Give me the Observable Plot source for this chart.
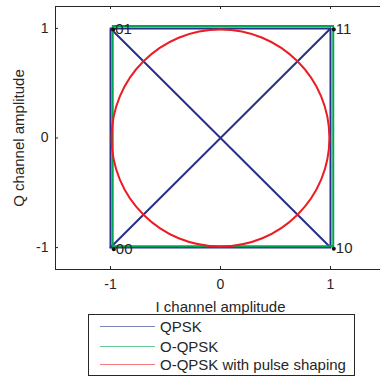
<!DOCTYPE html>
<html><head><meta charset="utf-8">
<script src="https://cdn.jsdelivr.net/npm/d3@7"></script>
<script src="https://cdn.jsdelivr.net/npm/@observablehq/plot@0.6"></script>
<style>
body{margin:0;background:#fff;font-family:"Liberation Sans",Arial,sans-serif;}
#wrap{position:relative;width:380px;height:378px;overflow:hidden;background:#fff}
#chart{position:absolute;left:0;top:0}
#legend{position:absolute;left:88px;top:314px;width:265px;height:60px;border:1px solid #262626;background:#fff;}
.row{position:absolute;left:0;width:265px;height:17px;font-size:15px;line-height:17px;color:#262626}
.sw{position:absolute;left:11px;top:8px;width:55px;height:1px;opacity:0.6}
.lb{position:absolute;left:71px;top:0}
</style></head>
<body>
<div id="wrap"><div id="chart"></div><div id="legend"></div></div>
<script>
const xTicks = [-1, 0, 1];
const yTicks = [-1, 0, 1];
// QPSK trajectory (two strokes)
const qpskI = [-1, 1, 1, -1, -1, 1, -1, 1];
const qpskQ = [1, 1, -1, -1, 1, -1, -1, 1];
const qpskStroke = [0, 0, 0, 0, 0, 0, 1, 1];
// O-QPSK trajectory
const oqpskI = [-0.98, 1.025, 1.025, -0.98, -0.98];
const oqpskQ = [1.022, 1.022, -0.987, -0.987, 1.022];
// O-QPSK with pulse shaping (read points around the curve)
const shapedI = [0.99, 0.915, 0.70, 0.38, 0, -0.38, -0.70, -0.915, -0.99, -0.915, -0.70, -0.38, 0, 0.38, 0.70, 0.915];
const shapedQ = [0, 0.38, 0.70, 0.915, 0.99, 0.915, 0.70, 0.38, 0, -0.38, -0.70, -0.915, -0.99, -0.915, -0.70, -0.38];
// constellation symbols
const symbolLabels = ["01", "11", "10", "00"];
const symbolI = [-0.975, 1.03, 1.03, -0.97];
const symbolQ = [0.99, 0.99, -1.01, -1.015];
const seriesNames = ["QPSK", "O-QPSK", "O-QPSK with pulse shaping"];
const seriesColors = ["#28308a", "#00a651", "#ed1c24"];

const qpsk = qpskI.map((d, i) => ({I: d, Q: qpskQ[i], s: qpskStroke[i]}));
const oqpsk = oqpskI.map((d, i) => ({I: d, Q: oqpskQ[i]}));
const shaped = shapedI.map((d, i) => ({I: d, Q: shapedQ[i]}));
const symbols = symbolLabels.map((l, i) => ({label: l, I: symbolI[i], Q: symbolQ[i]}));

const W = 380, H = 318, mL = 55, mT = 6, mB = 49, mR = -5;
const innerH = H - mT - mB, innerW = W - mL - mR;
const fmt = d => String(d);
const blank = () => "";

const chart = Plot.plot({
  width: W, height: H,
  marginLeft: mL, marginTop: mT, marginBottom: mB, marginRight: mR,
  style: {fontFamily: "Liberation Sans, Arial, sans-serif", fontSize: "14px", color: "#262626", background: "#fff"},
  x: {domain: [-1.5, 1.5]},
  y: {domain: [-1.2, 1.2]},
  marks: [
    Plot.line(qpsk, {x: "I", y: "Q", z: "s", stroke: seriesColors[0], strokeWidth: 2}),
    Plot.line(oqpsk, {x: "I", y: "Q", stroke: seriesColors[1], strokeWidth: 2}),
    Plot.line(shaped, {x: "I", y: "Q", stroke: seriesColors[2], strokeWidth: 2, curve: "catmull-rom-closed"}),
    Plot.dot(symbols, {x: "I", y: "Q", r: 2, fill: "#111"}),
    Plot.text(symbols, {x: "I", y: "Q", text: "label", textAnchor: "start", dx: 2, fontSize: 15, fill: "#262626"}),
    Plot.frame({stroke: "#262626"}),
    Plot.tickX(xTicks, {x: d => d, insetTop: innerH - 3, stroke: "#262626"}),
    Plot.tickX(xTicks, {x: d => d, insetBottom: innerH - 3, stroke: "#262626"}),
    Plot.tickY(yTicks, {y: d => d, insetRight: innerW - 3, stroke: "#262626"}),
    Plot.axisX(xTicks, {tickSize: 0, tickPadding: 10, tickFormat: fmt, fontSize: 14, label: null}),
    Plot.axisY(yTicks, {tickSize: 0, tickPadding: 7, tickFormat: fmt, fontSize: 14, label: null}),
    Plot.axisX(xTicks, {tickSize: 0, tickFormat: blank, fontSize: 15, label: "I channel amplitude", labelAnchor: "center", labelArrow: "none", labelOffset: 42}),
    Plot.axisY(yTicks, {tickSize: 0, tickFormat: blank, fontSize: 15, label: "Q channel amplitude", labelAnchor: "center", labelArrow: "none", labelOffset: 42})
  ]
});
document.getElementById("chart").appendChild(chart);

const legend = document.getElementById("legend");
const rowCenters = [11, 31, 49.5];
seriesNames.forEach((name, i) => {
  const row = document.createElement("div");
  row.className = "row";
  row.style.top = (rowCenters[i] - 8.5) + "px";
  const sw = document.createElement("div");
  sw.className = "sw";
  sw.style.background = seriesColors[i];
  const lb = document.createElement("span");
  lb.className = "lb";
  lb.textContent = name;
  row.appendChild(sw); row.appendChild(lb);
  legend.appendChild(row);
});
</script>
</body></html>
